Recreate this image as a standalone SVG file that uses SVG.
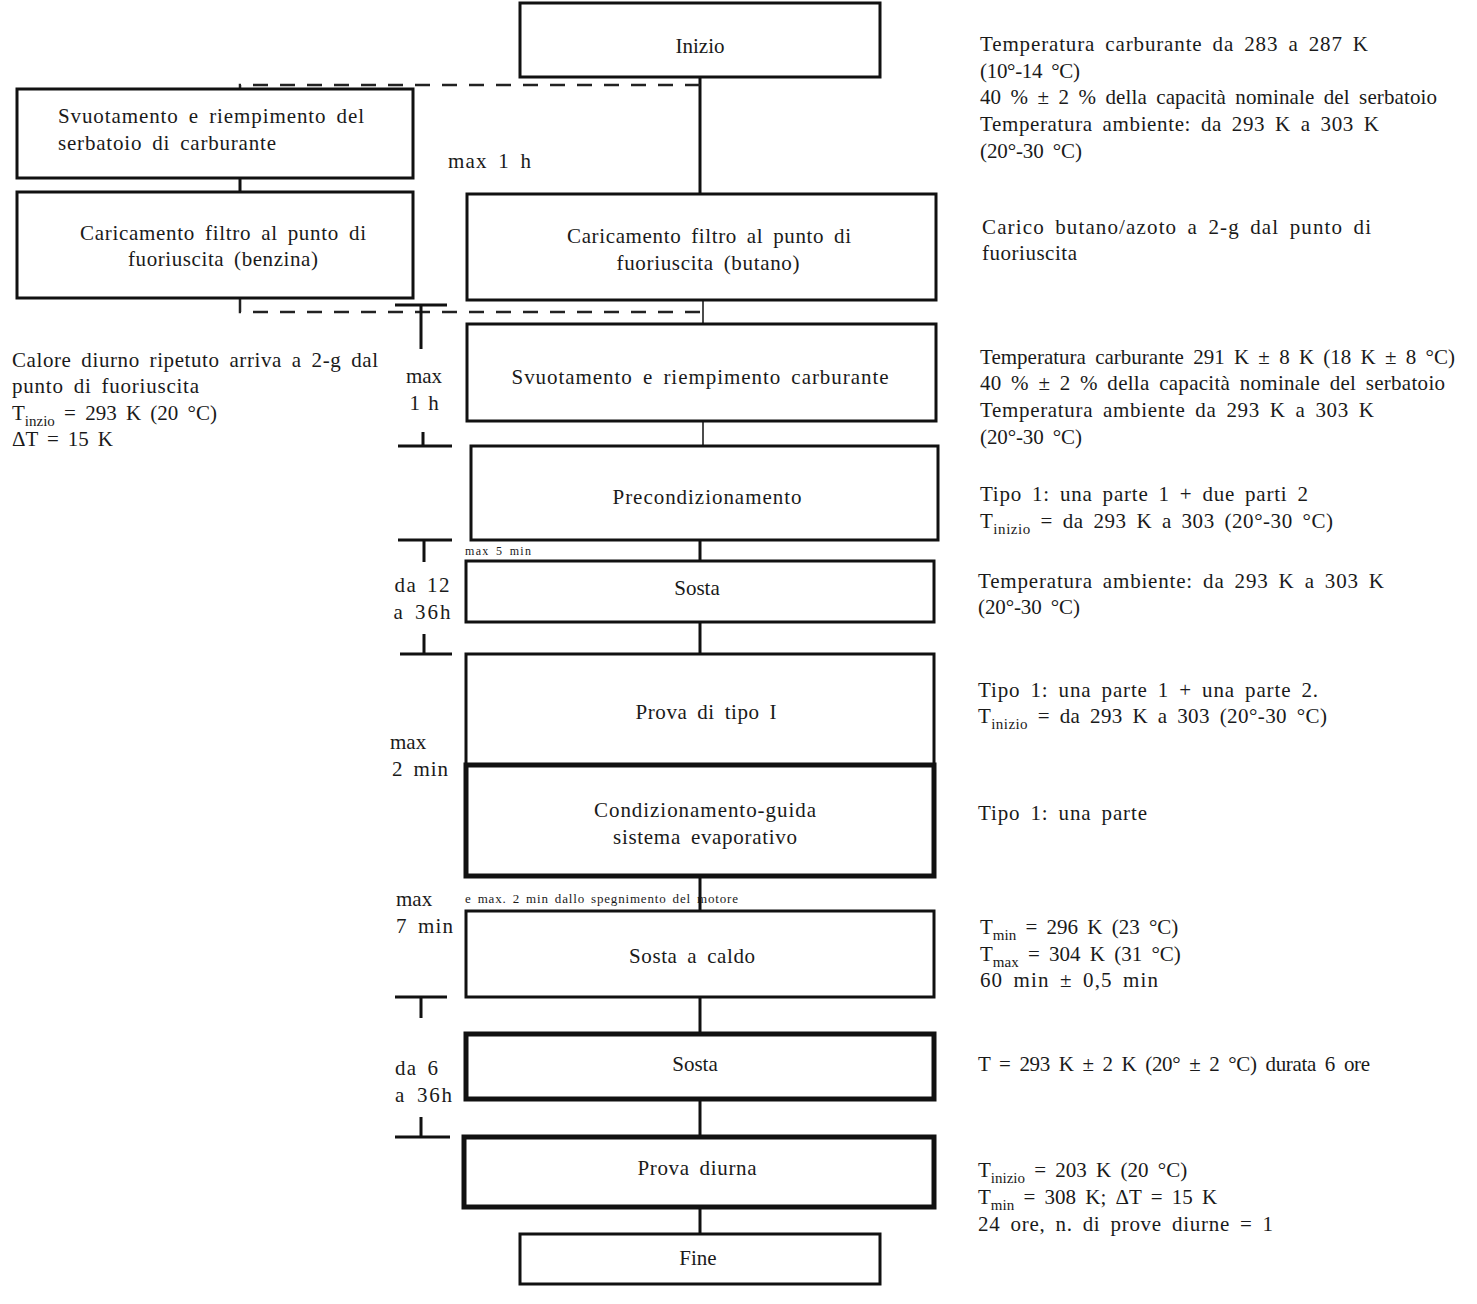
<svg xmlns="http://www.w3.org/2000/svg" width="1477" height="1304" viewBox="0 0 1477 1304">
<style>
text{font-family:"Liberation Serif","DejaVu Serif",serif;fill:#1a1a1a}
.b{fill:#fff;stroke:#111;stroke-width:3}
.bt{fill:#fff;stroke:#111;stroke-width:5}
.l{stroke:#111;stroke-width:3;fill:none}
.tl{stroke:#111;stroke-width:1.5;fill:none}
.d{stroke:#222;stroke-width:2.5;fill:none;stroke-dasharray:15 12}
.c{font-size:21px;text-anchor:middle;word-spacing:4px}
.r{font-size:21px;word-spacing:4px}
.m{font-size:21px;text-anchor:middle;word-spacing:3px}
.s{font-size:13px;word-spacing:2px}
.sub{font-size:15px}
</style>
<rect width="1477" height="1304" fill="#fff"/>
<g id="connectors">
<line class="l" x1="700" y1="77" x2="700" y2="194"/>
<path class="d" d="M700 85 H240 V89"/>
<line class="l" x1="240" y1="178" x2="240" y2="192"/>
<path class="d" d="M240 298 V312 H703"/>
<line class="tl" x1="703" y1="300" x2="703" y2="324"/>
<line class="tl" x1="703" y1="421" x2="703" y2="446"/>
<line class="l" x1="700" y1="540" x2="700" y2="561"/>
<line class="l" x1="700" y1="622" x2="700" y2="654"/>
<line class="l" x1="700" y1="876" x2="700" y2="911"/>
<line class="l" x1="700" y1="997" x2="700" y2="1034"/>
<line class="l" x1="700" y1="1099" x2="700" y2="1137"/>
<line class="l" x1="700" y1="1207" x2="700" y2="1234"/>
</g>
<g id="timing">
<path class="l" d="M395 305 H447 M421 305 V349"/>
<path class="l" d="M423 432 V446 M398 446 H452"/>
<path class="l" d="M398 540 H452 M424 540 V562"/>
<path class="l" d="M424 634 V654 M400 654 H452"/>
<path class="l" d="M395 997 H447 M421 997 V1018"/>
<path class="l" d="M421 1117 V1137 M395 1137 H450"/>
<text class="r" x="448" y="168" textLength="83">max 1 h</text>
<text class="m" x="424" y="383">max</text>
<text class="m" x="424" y="410">1 h</text>
<text class="m" x="422" y="592" textLength="55">da 12</text>
<text class="m" x="422" y="619" textLength="57">a 36h</text>
<text class="r" x="390" y="749">max</text>
<text class="r" x="392" y="776" textLength="56">2 min</text>
<text class="r" x="396" y="906">max</text>
<text class="r" x="396" y="933" textLength="57">7 min</text>
<text class="r" x="395" y="1075" textLength="43">da 6</text>
<text class="r" x="395" y="1102" textLength="57">a 36h</text>
<text class="s" x="465" y="555" style="font-size:12px" textLength="66">max 5 min</text>
<text class="s" x="465" y="903" textLength="273">e max. 2 min dallo spegnimento del motore</text>
</g>
<g id="inizio"><rect class="b" x="520" y="3" width="360" height="74"/><text class="c" x="700" y="53">Inizio</text></g>
<g id="svuotamento-serbatoio"><rect class="b" x="17" y="89" width="396" height="89"/><text class="r" x="58" y="123" textLength="306">Svuotamento e riempimento del</text><text class="r" x="58" y="150" textLength="218">serbatoio di carburante</text></g>
<g id="caricamento-benzina"><rect class="b" x="17" y="192" width="396" height="106"/><text class="c" x="223" y="240" textLength="286">Caricamento filtro al punto di</text><text class="c" x="223" y="266" textLength="190">fuoriuscita (benzina)</text></g>
<g id="caricamento-butano"><rect class="b" x="467" y="194" width="469" height="106"/><text class="c" x="709" y="243" textLength="284">Caricamento filtro al punto di</text><text class="c" x="708" y="270" textLength="183">fuoriuscita (butano)</text></g>
<g id="svuotamento-carburante"><rect class="b" x="467" y="324" width="469" height="97"/><text class="c" x="700" y="384" textLength="377">Svuotamento e riempimento carburante</text></g>
<g id="precondizionamento"><rect class="b" x="471" y="446" width="467" height="94"/><text class="c" x="707" y="504" textLength="189">Precondizionamento</text></g>
<g id="sosta1"><rect class="b" x="466" y="561" width="468" height="61"/><text class="c" x="697" y="595">Sosta</text></g>
<g id="prova-tipo-1"><rect class="b" x="466" y="654" width="468" height="111"/><text class="c" x="706" y="719" textLength="141">Prova di tipo I</text></g>
<g id="condizionamento"><rect class="bt" x="466" y="765" width="468" height="111"/><text class="c" x="705" y="817" textLength="222">Condizionamento-guida</text><text class="c" x="705" y="844" textLength="184">sistema evaporativo</text></g>
<g id="sosta-caldo"><rect class="b" x="466" y="911" width="468" height="86"/><text class="c" x="692" y="963" textLength="126">Sosta a caldo</text></g>
<g id="sosta2"><rect class="bt" x="466" y="1034" width="468" height="65"/><text class="c" x="695" y="1071">Sosta</text></g>
<g id="prova-diurna"><rect class="bt" x="464" y="1137" width="470" height="70"/><text class="c" x="697" y="1175" textLength="119">Prova diurna</text></g>
<g id="fine"><rect class="b" x="520" y="1234" width="360" height="50"/><text class="c" x="698" y="1265">Fine</text></g>
<g id="notes-left">
<text class="r" x="12" y="367" textLength="366">Calore diurno ripetuto arriva a 2-g dal</text>
<text class="r" x="12" y="393" textLength="187">punto di fuoriuscita</text>
<text class="r" x="12" y="420">T<tspan class="sub" dy="6">inzio</tspan><tspan dy="-6"> = 293 K (20 °C)</tspan></text>
<text class="r" x="12" y="446" textLength="101">ΔT = 15 K</text>
</g>
<g id="notes-right">
<text class="r" x="980" y="51" textLength="388">Temperatura carburante da 283 a 287 K</text>
<text class="r" x="980" y="78" textLength="100">(10°-14 °C)</text>
<text class="r" x="980" y="104" textLength="457">40 % ± 2 % della capacità nominale del serbatoio</text>
<text class="r" x="980" y="131" textLength="399">Temperatura ambiente: da 293 K a 303 K</text>
<text class="r" x="980" y="158" textLength="102">(20°-30 °C)</text>
<text class="r" x="982" y="234" textLength="389">Carico butano/azoto a 2-g dal punto di</text>
<text class="r" x="982" y="260" textLength="95">fuoriuscita</text>
<text class="r" x="980" y="364" textLength="475">Temperatura carburante 291 K ± 8 K (18 K ± 8 °C)</text>
<text class="r" x="980" y="390" textLength="465">40 % ± 2 % della capacità nominale del serbatoio</text>
<text class="r" x="980" y="417" textLength="394">Temperatura ambiente da 293 K a 303 K</text>
<text class="r" x="980" y="444" textLength="102">(20°-30 °C)</text>
<text class="r" x="980" y="501" textLength="328">Tipo 1: una parte 1 + due parti 2</text>
<text class="r" x="980" y="528" textLength="353">T<tspan class="sub" dy="6">inizio</tspan><tspan dy="-6"> = da 293 K a 303 (20°-30 °C)</tspan></text>
<text class="r" x="978" y="588" textLength="406">Temperatura ambiente: da 293 K a 303 K</text>
<text class="r" x="978" y="614" textLength="102">(20°-30 °C)</text>
<text class="r" x="978" y="697" textLength="340">Tipo 1: una parte 1 + una parte 2.</text>
<text class="r" x="978" y="723" textLength="349">T<tspan class="sub" dy="6">inizio</tspan><tspan dy="-6"> = da 293 K a 303 (20°-30 °C)</tspan></text>
<text class="r" x="978" y="820" textLength="169">Tipo 1: una parte</text>
<text class="r" x="980" y="934">T<tspan class="sub" dy="6">min</tspan><tspan dy="-6"> = 296 K (23 °C)</tspan></text>
<text class="r" x="980" y="961">T<tspan class="sub" dy="6">max</tspan><tspan dy="-6"> = 304 K (31 °C)</tspan></text>
<text class="r" x="980" y="987" textLength="178">60 min ± 0,5 min</text>
<text class="r" x="978" y="1071" textLength="392">T = 293 K ± 2 K (20° ± 2 °C) durata 6 ore</text>
<text class="r" x="978" y="1177">T<tspan class="sub" dy="6">inizio</tspan><tspan dy="-6"> = 203 K (20 °C)</tspan></text>
<text class="r" x="978" y="1204">T<tspan class="sub" dy="6">min</tspan><tspan dy="-6"> = 308 K; ΔT = 15 K</tspan></text>
<text class="r" x="978" y="1231" textLength="295">24 ore, n. di prove diurne = 1</text>
</g>
</svg>
